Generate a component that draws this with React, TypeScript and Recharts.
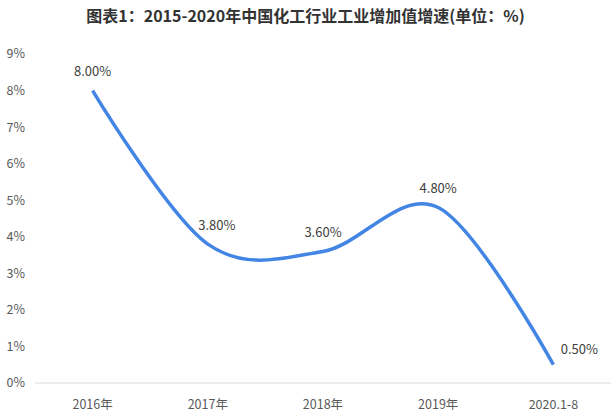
import { LineChart, Line, XAxis, YAxis, LabelList } from 'recharts';

const categories = ['2016年', '2017年', '2018年', '2019年', '2020.1-8'];
const growth = [8.0, 3.8, 3.6, 4.8, 0.5];
const yTicks = [0, 1, 2, 3, 4, 5, 6, 7, 8, 9];

const data = categories.map((name, i) => ({ name, value: growth[i] }));

// Catmull-Rom style smoothing, close to the spreadsheet "smoothed line"
function smoothCurve(context: any) {
  const k = 1 / 6;
  let x0 = NaN, y0 = NaN, x1 = NaN, y1 = NaN, x2 = NaN, y2 = NaN, pt = 0;
  const seg = (x: number, y: number) => {
    context.bezierCurveTo(
      x1 + k * (x2 - x0), y1 + k * (y2 - y0),
      x2 + k * (x1 - x), y2 + k * (y1 - y),
      x2, y2,
    );
  };
  return {
    areaStart() {},
    areaEnd() {},
    lineStart() {
      x0 = x1 = x2 = y0 = y1 = y2 = NaN;
      pt = 0;
    },
    lineEnd() {
      if (pt === 2) context.lineTo(x2, y2);
      else if (pt === 3) seg(x1, y1);
    },
    point(x: number, y: number) {
      x = +x; y = +y;
      switch (pt) {
        case 0: pt = 1; context.moveTo(x, y); break;
        case 1: pt = 2; x1 = x; y1 = y; break;
        case 2: pt = 3; seg(x, y); break;
        default: seg(x, y); break;
      }
      x0 = x1; x1 = x2; x2 = x;
      y0 = y1; y1 = y2; y2 = y;
    },
  };
}

const font = '"Noto Sans CJK SC", "Noto Sans", sans-serif';

const renderLabel = (props: any) => {
  const { x, y, value, index } = props;
  let dx = 0;
  let dy = -18;
  if (index === 1) dx = 9;
  if (index === categories.length - 1) { dx = 26; dy = -14; }
  return (
    <text x={x + dx} y={y + dy} textAnchor="middle" dominantBaseline="middle"
      fill="#404040" fontSize={13} fontFamily={font}>
      {Number(value).toFixed(2)}%
    </text>
  );
};

export default function App() {
  return (
    <div style={{ position: 'absolute', left: 0, top: 0, width: 611, height: 416, background: '#fff', fontFamily: font }}>
      <div style={{ position: 'absolute', left: 0, top: 3, width: 611, textAlign: 'center', fontSize: 16, fontWeight: 'bold', color: '#333' }}>
        图表1：2015-2020年中国化工行业工业增加值增速(单位：%)
      </div>
      <LineChart width={611} height={416} data={data} margin={{ top: 54, right: 0, bottom: 3, left: 0 }}>
        <XAxis dataKey="name" height={30} tickLine={false} axisLine={{ stroke: '#d9d9d9' }}
          padding={{ left: 57.6, right: 57.6 }}
          tick={{ fontSize: 12.5, fill: '#595959', fontFamily: font }} tickMargin={11} interval={0} />
        <YAxis width={35} domain={[0, 9]} ticks={yTicks} axisLine={false} tickLine={false} tickSize={0}
          tickMargin={10} tickFormatter={(v) => `${v}%`}
          tick={{ fontSize: 12.5, fill: '#595959', fontFamily: font }} />
        <Line dataKey="value" type={smoothCurve as any} stroke="#4285e4" strokeWidth={3.5}
          dot={false} activeDot={false} isAnimationActive={false}>
          <LabelList dataKey="value" content={renderLabel} />
        </Line>
      </LineChart>
    </div>
  );
}
